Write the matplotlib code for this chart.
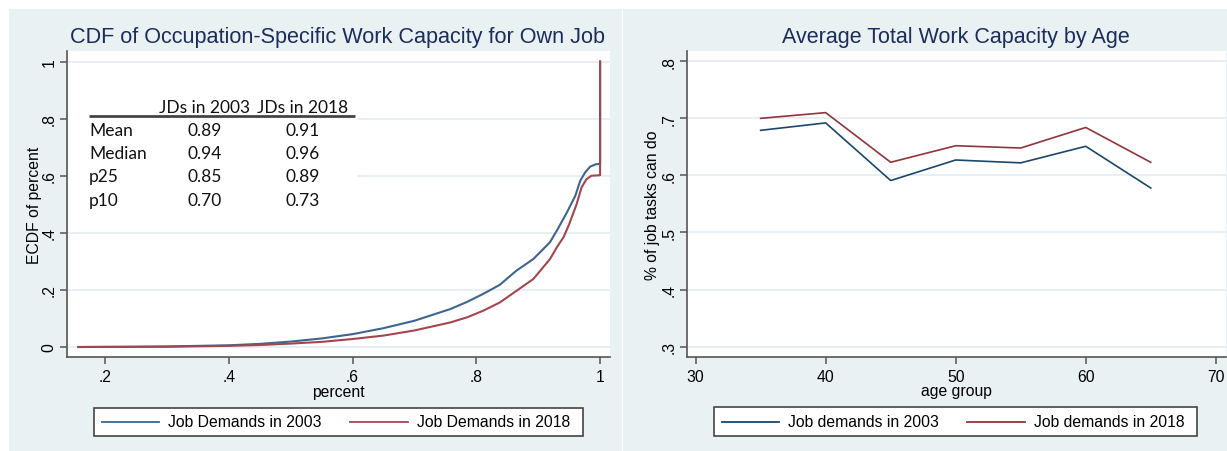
import matplotlib
matplotlib.use("Agg")
import matplotlib.pyplot as plt
from matplotlib.patches import Rectangle
from matplotlib.lines import Line2D

# --- data -------------------------------------------------------------------
# Empirical CDF of occupation-specific work capacity (own job)
cdf_x_2003 = [0.157, 0.25, 0.30, 0.35, 0.40, 0.45, 0.50, 0.55, 0.60, 0.65, 0.70,
              0.758, 0.785, 0.811, 0.838, 0.865, 0.892, 0.919, 0.932, 0.946,
              0.960, 0.968, 0.976, 0.984, 0.993, 1.0, 1.0]
cdf_y_2003 = [0.0, 0.001, 0.002, 0.004, 0.006, 0.011, 0.019, 0.030, 0.045, 0.066,
              0.092, 0.133, 0.158, 0.186, 0.218, 0.268, 0.308, 0.367, 0.415, 0.470,
              0.530, 0.583, 0.612, 0.632, 0.640, 0.642, 1.0]
cdf_x_2018 = [0.157, 0.30, 0.40, 0.45, 0.50, 0.55, 0.60, 0.65, 0.70, 0.758, 0.785,
              0.811, 0.838, 0.865, 0.892, 0.919, 0.930, 0.941, 0.950, 0.962, 0.970,
              0.978, 0.986, 1.0, 1.0]
cdf_y_2018 = [0.0, 0.001, 0.004, 0.007, 0.012, 0.018, 0.028, 0.040, 0.058, 0.086,
              0.104, 0.127, 0.156, 0.197, 0.238, 0.308, 0.349, 0.385, 0.430, 0.500,
              0.559, 0.588, 0.600, 0.602, 1.0]

stat_names = ["Mean", "Median", "p25", "p10"]
stats_2003 = [0.89, 0.94, 0.85, 0.70]
stats_2018 = [0.91, 0.96, 0.89, 0.73]
stat_headers = ["JDs in 2003", "JDs in 2018"]

# Average total work capacity by age group
age_groups = [35, 40, 45, 50, 55, 60, 65]
capacity_2003 = [0.679, 0.692, 0.591, 0.627, 0.622, 0.651, 0.578]
capacity_2018 = [0.700, 0.710, 0.623, 0.652, 0.648, 0.684, 0.623]

cdf_xticks = [0.2, 0.4, 0.6, 0.8, 1.0]
cdf_xticklabels = [".2", ".4", ".6", ".8", "1"]
cdf_yticks = [0.0, 0.2, 0.4, 0.6, 0.8, 1.0]
cdf_yticklabels = ["0", ".2", ".4", ".6", ".8", "1"]
age_xticks = [30, 40, 50, 60, 70]
age_yticks = [0.3, 0.4, 0.5, 0.6, 0.7, 0.8]
age_yticklabels = [".3", ".4", ".5", ".6", ".7", ".8"]

# --- style ------------------------------------------------------------------
W, H = 1227, 452
BG = "#e9f1f3"
GRID = "#e6eef1"
AXIS = "#555555"
TITLE = "#1c2c5c"
NAVY = "#1a476f"
MAROON = "#90353b"
NAVY_L = "#3d6590"
MAROON_L = "#a2464f"
FONT = "Liberation Sans"

plt.rcParams["font.family"] = FONT


def fx(px):
    return px / W


def fy(py):
    return 1 - py / H


fig = plt.figure(figsize=(W / 100, H / 100), dpi=100, facecolor="white")

# graph regions
fig.add_artist(Rectangle((fx(9), fy(452)), (622 - 9) / W, (452 - 10) / H,
                         transform=fig.transFigure, facecolor=BG,
                         edgecolor="none", zorder=0))
fig.add_artist(Rectangle((fx(623), fy(452)), (1227 - 623) / W, (452 - 10) / H,
                         transform=fig.transFigure, facecolor=BG,
                         edgecolor="none", zorder=0))

ax1 = fig.add_axes([fx(67), fy(358), (610 - 67) / W, (358 - 52) / H])
ax2 = fig.add_axes([fx(686.7), fy(358), (1226 - 686.7) / W, (358 - 52) / H])


def style_axes(ax):
    ax.set_facecolor("white")
    for side in ("top", "right"):
        ax.spines[side].set_visible(False)
    for side in ("left", "bottom"):
        ax.spines[side].set_color(AXIS)
        ax.spines[side].set_linewidth(1.2)
    ax.tick_params(axis="both", direction="out", length=5, width=1.1,
                   color=AXIS, labelsize=11.3, labelcolor="black")
    ax.tick_params(axis="x", pad=4)
    ax.tick_params(axis="y", pad=2.5)
    ax.yaxis.grid(True, color=GRID, linewidth=1.3)
    ax.set_axisbelow(True)
    for lab in ax.get_yticklabels():
        lab.set_rotation(90)
        lab.set_va("center")


# --- left: ECDF ---------------------------------------------------------------
ax1.plot(cdf_x_2003, cdf_y_2003, color=NAVY_L, linewidth=1.5, zorder=3)
ax1.plot(cdf_x_2018, cdf_y_2018, color=MAROON_L, linewidth=1.5, zorder=4)
ax1.set_xlim(0.1386, 1.016)
ax1.set_ylim(-0.035, 1.037)
ax1.set_xticks(cdf_xticks, cdf_xticklabels)
ax1.set_yticks(cdf_yticks, cdf_yticklabels)
style_axes(ax1)
ax1.set_xlabel("percent", fontsize=11.3)
ax1.xaxis.set_label_coords(0.5, -0.114)
ax1.xaxis.label.set_va("center")
ax1.set_ylabel("ECDF of percent", fontsize=11.3)
ax1.yaxis.set_label_coords(-0.0597, 0.5)
ax1.yaxis.label.set_va("center")

# summary-statistics table
ax1.add_patch(Rectangle((0.0, 0.477), 0.534, 0.382, transform=ax1.transAxes,
                        facecolor="white", edgecolor="none", zorder=2))
tab_font = dict(family="Lato", fontsize=12.5, color="#111111", zorder=5,
                transform=ax1.transAxes)
col_x = [0.254, 0.4346]
for cx, head in zip(col_x, stat_headers):
    ax1.text(cx, 0.8186, head, ha="center", va="center", **tab_font)
ax1.plot([0.0405, 0.530], [0.7876, 0.7876], transform=ax1.transAxes,
         color="#444444", linewidth=2.0, zorder=5, solid_capstyle="butt")
row_y = [0.7428, 0.6667, 0.5915, 0.514]
for ry, name, v03, v18 in zip(row_y, stat_names, stats_2003, stats_2018):
    ax1.text(0.0405, ry, name, ha="left", va="center", **tab_font)
    ax1.text(col_x[0], ry, f"{v03:.2f}", ha="center", va="center", **tab_font)
    ax1.text(col_x[1], ry, f"{v18:.2f}", ha="center", va="center", **tab_font)

# --- right: capacity by age ---------------------------------------------------
ax2.plot(age_groups, capacity_2003, color=NAVY, linewidth=1.2, zorder=3)
ax2.plot(age_groups, capacity_2018, color=MAROON, linewidth=1.2, zorder=3)
ax2.set_xlim(29.31, 70.79)
ax2.set_ylim(0.2818, 0.818)
ax2.set_xticks(age_xticks, [str(t) for t in age_xticks])
ax2.set_yticks(age_yticks, age_yticklabels)
style_axes(ax2)
ax2.set_xlabel("age group", fontsize=11.3)
ax2.xaxis.set_label_coords(0.5, -0.111)
ax2.xaxis.label.set_va("center")
ax2.set_ylabel("% of job tasks can do", fontsize=11.3)
ax2.yaxis.set_label_coords(-0.0643, 0.5)
ax2.yaxis.label.set_va("center")

# --- titles -------------------------------------------------------------------
fig.text(fx(338), fy(38), "CDF of Occupation-Specific Work Capacity for Own Job",
         ha="center", va="center", fontsize=15.6, color=TITLE)
fig.text(fx(955.5), fy(38), "Average Total Work Capacity by Age",
         ha="center", va="center", fontsize=15.5, color=TITLE)


# --- legends ------------------------------------------------------------------
def legend_box(x0, x1, y0, y1, entries):
    fig.add_artist(Rectangle((fx(x0), fy(y1)), (x1 - x0) / W, (y1 - y0) / H,
                             transform=fig.transFigure, facecolor="white",
                             edgecolor="#444444", linewidth=1.2, zorder=5))
    yc = fy((y0 + y1) / 2)
    for lx0, lx1, tx, color, label in entries:
        fig.add_artist(Line2D([fx(lx0), fx(lx1)], [yc, yc],
                              transform=fig.transFigure, color=color,
                              linewidth=1.3, zorder=6))
        fig.text(fx(tx), yc, label, ha="left", va="center", fontsize=11.3,
                 color="black", zorder=6)


legend_box(94.3, 583, 409, 437, [
    (101.7, 159, 168, NAVY_L, "Job Demands in 2003"),
    (350, 408, 417, MAROON_L, "Job Demands in 2018"),
])
legend_box(714, 1197, 408.3, 437.3, [
    (721.7, 779, 788, NAVY, "Job demands in 2003"),
    (966.7, 1025, 1034, MAROON, "Job demands in 2018"),
])

fig.savefig("out.png", dpi=100, facecolor="white")
